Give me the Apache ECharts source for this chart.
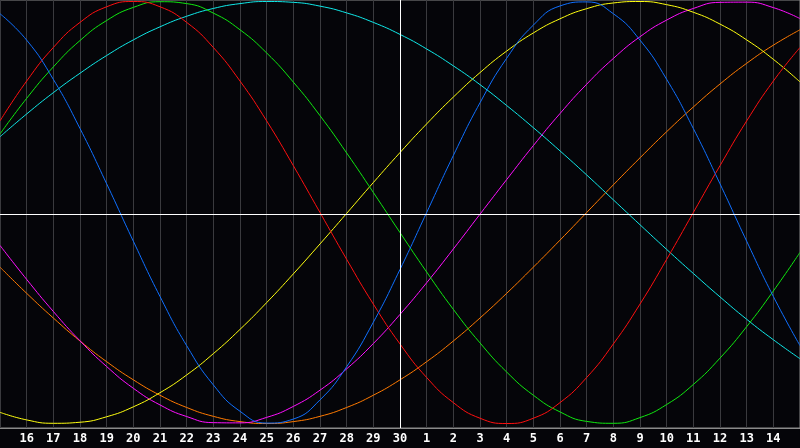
<!DOCTYPE html>
<html>
<head>
<meta charset="utf-8">
<title>Biorhythm</title>
<script src="https://cdn.jsdelivr.net/npm/echarts@6.0.0/dist/echarts.min.js"></script>
<style>
html, body { margin: 0; padding: 0; background: #050509; }
#main { width: 800px; height: 448px; }
</style>
</head>
<body>
<div id="main"></div>
<script>
// day labels, one per slot (first and last slot are unlabelled edges)
var dayLabels = ['', '16', '17', '18', '19', '20', '21', '22', '23', '24', '25', '26', '27', '28', '29', '30',
    '1', '2', '3', '4', '5', '6', '7', '8', '9', '10', '11', '12', '13', '14', ''];

// values, one per day slot
var physical = [0.942, 0.817, 0.631, 0.398, 0.136, -0.136, -0.398, -0.631, -0.817, -0.942, -0.998, -0.979, -0.888, -0.731, -0.520, -0.270,
    0, 0.270, 0.520, 0.731, 0.888, 0.979, 0.998, 0.942, 0.817, 0.631, 0.398, 0.136, -0.136, -0.398, -0.631];
var emotional = [0.434, 0.623, 0.782, 0.901, 0.975, 1, 0.975, 0.901, 0.782, 0.623, 0.434, 0.222, 0, -0.222, -0.434, -0.623,
    -0.782, -0.901, -0.975, -1, -0.975, -0.901, -0.782, -0.623, -0.434, -0.222, 0, 0.222, 0.434, 0.623, 0.782];
var intellectual = [0.372, 0.541, 0.690, 0.815, 0.910, 0.972, 0.999, 0.990, 0.945, 0.866, 0.756, 0.618, 0.459, 0.282, 0.095, -0.095,
    -0.282, -0.459, -0.618, -0.756, -0.866, -0.945, -0.990, -0.999, -0.972, -0.910, -0.815, -0.690, -0.541, -0.372, -0.189];
var spiritual = [0.359, 0.467, 0.568, 0.660, 0.744, 0.818, 0.880, 0.930, 0.967, 0.990, 1.000, 0.996, 0.978, 0.946, 0.901, 0.844,
    0.775, 0.695, 0.606, 0.507, 0.402, 0.292, 0.178, 0.060, -0.058, -0.175, -0.289, -0.400, -0.506, -0.603, -0.693];
var aesthetic = [-0.947, -0.983, -0.999, -0.994, -0.968, -0.921, -0.854, -0.770, -0.669, -0.554, -0.427, -0.291, -0.149, -0.004, 0.142, 0.284,
    0.420, 0.547, 0.663, 0.765, 0.851, 0.918, 0.966, 0.993, 1.000, 0.985, 0.949, 0.893, 0.818, 0.726, 0.619];
var intuitive = [-0.156, -0.317, -0.469, -0.608, -0.730, -0.833, -0.912, -0.967, -0.996, -0.997, -0.971, -0.919, -0.842, -0.741, -0.621, -0.483,
    -0.333, -0.173, -0.008, 0.156, 0.317, 0.469, 0.608, 0.730, 0.833, 0.912, 0.967, 0.996, 0.997, 0.971, 0.919];
var awareness = [-0.259, -0.383, -0.5, -0.609, -0.707, -0.793, -0.866, -0.924, -0.966, -0.991, -1, -0.991, -0.966, -0.924, -0.866, -0.793,
    -0.707, -0.609, -0.5, -0.383, -0.259, -0.131, 0, 0.131, 0.259, 0.383, 0.5, 0.609, 0.707, 0.793, 0.866];

var todayIndex = 15;

var chart = echarts.init(document.getElementById('main'));

function makeLine(name, values, color) {
    return {
        name: name,
        type: 'line',
        smooth: true,
        symbol: 'none',
        silent: true,
        animation: false,
        lineStyle: { width: 1, color: color },
        data: values.map(function (v, i) { return [i, v]; })
    };
}

var series = [
    makeLine('awareness', awareness, '#ff7a00'),
    makeLine('intuitive', intuitive, '#ff10ff'),
    makeLine('aesthetic', aesthetic, '#ffff10'),
    makeLine('spiritual', spiritual, '#10e8e8'),
    makeLine('intellectual', intellectual, '#10e810'),
    makeLine('emotional', emotional, '#ff1010'),
    makeLine('physical', physical, '#1070ff')
];

// white cross: today + zero line
series[0].markLine = {
    silent: true,
    symbol: 'none',
    label: { show: false },
    animation: false,
    lineStyle: { color: '#ffffff', width: 1, type: 'solid' },
    data: [{ xAxis: todayIndex }, { yAxis: -0.007 }]
};

var option = {
    backgroundColor: '#050509',
    animation: false,
    grid: {
        left: 0, right: 0, top: 0, bottom: 20,
        show: true,
        backgroundColor: '#050509',
        borderColor: '#8a8a8a',
        borderWidth: 1
    },
    xAxis: {
        type: 'value',
        min: 0,
        max: 30,
        interval: 1,
        axisLine: { show: true, onZero: false, lineStyle: { color: '#8a8a8a' } },
        axisTick: { show: false },
        splitLine: { show: true, lineStyle: { color: '#3a3a3e', width: 1 } },
        axisLabel: {
            color: '#ffffff',
            fontFamily: 'DejaVu Sans Mono',
            fontWeight: 'bold',
            fontSize: 12,
            margin: 5,
            showMinLabel: false,
            showMaxLabel: false,
            formatter: function (v) { return dayLabels[v] || ''; }
        }
    },
    yAxis: {
        type: 'value',
        min: -1.0213,
        max: 1.0071,
        show: false,
        splitLine: { show: false }
    },
    series: series
};

chart.setOption(option);
</script>
</body>
</html>
